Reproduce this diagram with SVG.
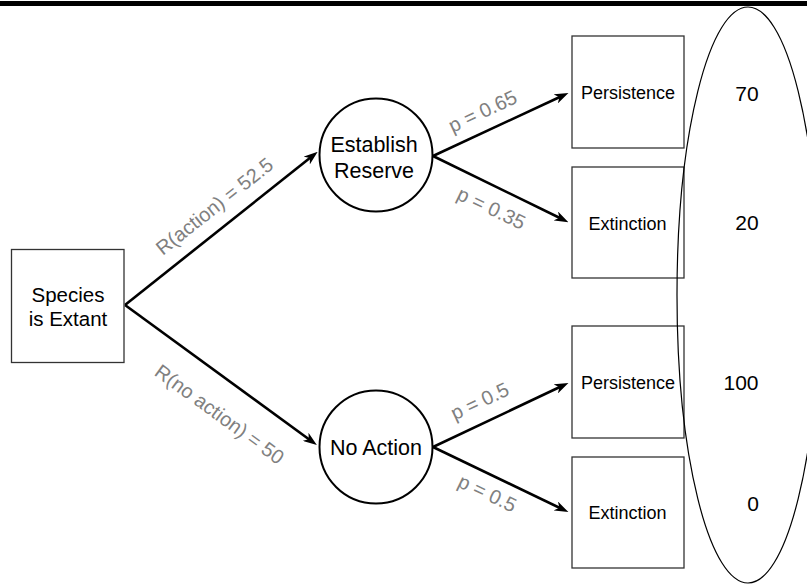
<svg xmlns="http://www.w3.org/2000/svg" width="807" height="584" viewBox="0 0 807 584">
<style>
.box{fill:#fff;stroke:#333;stroke-width:1.3}
.circ{fill:#fff;stroke:#000;stroke-width:2}
.nt{font-family:"Liberation Sans",Arial,sans-serif;font-size:20.5px;fill:#000;text-anchor:middle}
.ct{font-family:"Liberation Sans",Arial,sans-serif;font-size:21.5px;fill:#000;text-anchor:middle}
.lt{font-family:"Liberation Sans",Arial,sans-serif;font-size:18px;fill:#000;text-anchor:middle}
.val{font-family:"Liberation Sans",Arial,sans-serif;font-size:21px;fill:#000;text-anchor:middle}
.lab{font-family:"Liberation Sans",Arial,sans-serif;font-size:20px;fill:#808080;text-anchor:middle}
.edge{stroke:#000;stroke-width:2.6;fill:none;marker-end:url(#arr)}
</style>
<defs>
<marker id="arr" markerUnits="userSpaceOnUse" viewBox="0 0 14 10" refX="8" refY="5" markerWidth="14" markerHeight="10" orient="auto">
<path d="M0,0 L14,5 L0,10 L4,5 z" fill="#000"/>
</marker>
</defs>
<rect x="0" y="1" width="807" height="5" fill="#000"/>
<g id="connectors">
<line class="edge" x1="125" y1="305" x2="313" y2="155.5"/>
<line class="edge" x1="125" y1="305" x2="312" y2="441.5"/>
<line class="edge" x1="433" y1="156" x2="563" y2="95.5"/>
<line class="edge" x1="433" y1="156" x2="563" y2="219.5"/>
<line class="edge" x1="433" y1="447" x2="563" y2="385.5"/>
<line class="edge" x1="433" y1="447" x2="563" y2="509.5"/>
</g>
<g id="labels">
<text class="lab" transform="translate(215,207) rotate(-38.4)" y="6">R(action) = 52.5</text>
<text class="lab" transform="translate(219,415) rotate(36.1)" y="6">R(no action) = 50</text>
<text class="lab" transform="translate(483,112) rotate(-25.2)" y="6">p = 0.65</text>
<text class="lab" transform="translate(491,209) rotate(25.5)" y="6">p = 0.35</text>
<text class="lab" transform="translate(480,402) rotate(-25.2)" y="6">p = 0.5</text>
<text class="lab" transform="translate(487,494) rotate(25.5)" y="6">p = 0.5</text>
</g>
<g id="species">
<rect class="box" x="11.5" y="249.5" width="112.5" height="113"/>
<text class="nt" x="68" y="302">Species</text>
<text class="nt" x="68" y="326">is Extant</text>
</g>
<g id="establish">
<circle class="circ" cx="376" cy="155" r="56.5"/>
<text class="ct" x="374" y="152">Establish</text>
<text class="ct" x="374" y="178">Reserve</text>
</g>
<g id="noaction">
<circle class="circ" cx="376" cy="447" r="56.5"/>
<text class="ct" x="376" y="455">No Action</text>
</g>
<g id="persist1">
<rect class="box" x="572" y="36" width="112" height="112"/>
<text class="lt" x="628" y="99">Persistence</text>
</g>
<g id="extinct1">
<rect class="box" x="572" y="167" width="112" height="111"/>
<text class="lt" x="627.5" y="230">Extinction</text>
</g>
<g id="persist2">
<rect class="box" x="572" y="326" width="112" height="112"/>
<text class="lt" x="628" y="389">Persistence</text>
</g>
<g id="extinct2">
<rect class="box" x="572" y="457" width="112" height="111"/>
<text class="lt" x="627.5" y="519">Extinction</text>
</g>
<g id="outcomes">
<ellipse cx="748" cy="295" rx="71" ry="288" fill="none" stroke="#000" stroke-width="1.2"/>
<text class="val" x="747" y="101">70</text>
<text class="val" x="747" y="230">20</text>
<text class="val" x="741" y="390">100</text>
<text class="val" x="753" y="511">0</text>
</g>
</svg>
